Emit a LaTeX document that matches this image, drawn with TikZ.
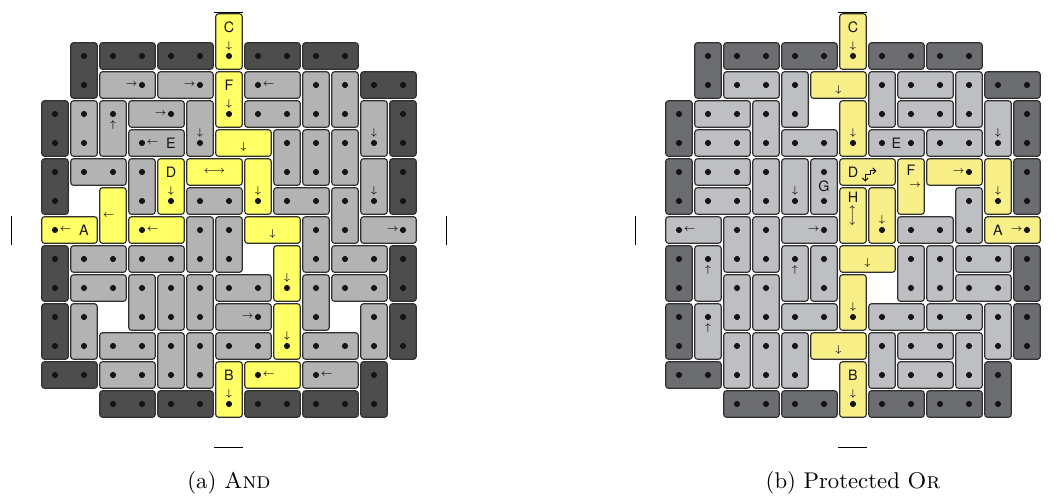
\documentclass[tikz,border=0pt]{standalone}
\usepackage{fontspec}
\usepackage{graphicx}
\usetikzlibrary{arrows.meta}
\newfontfamily\hv{TeX Gyre Heros}
\definecolor{DkA}{HTML}{4D4D4D}
\definecolor{LtA}{HTML}{B3B3B3}
\definecolor{YlA}{HTML}{FFFF66}
\definecolor{DkB}{HTML}{6C6D70}
\definecolor{LtB}{HTML}{BEBFC2}
\definecolor{YlB}{HTML}{F8EF88}
\definecolor{Edge}{HTML}{303030}
\definecolor{Ink}{HTML}{141414}
\newcommand\aD{\scalebox{0.44}{\boldmath$\downarrow$}}
\newcommand\aU{\scalebox{0.44}{\boldmath$\uparrow$}}
\newcommand\aL{\scalebox{0.44}{\boldmath$\leftarrow$}}
\newcommand\aR{\scalebox{0.44}{\boldmath$\rightarrow$}}
\newcommand\aLR{\scalebox{0.44}{\boldmath$\longleftrightarrow$}}
\newcommand\pz[5]{\draw[#5] ({#1-0.455},{#2-0.455}) rectangle ({#3+0.455},{#4+0.455});}
\newcommand\dt[2]{\fill[Ink] (#1,#2) circle[radius=1.35pt];}
\newcommand\pzd[5]{\pz{#1}{#2}{#3}{#4}{#5}\dt{#1}{#2}\dt{#3}{#4}}
\newcommand\rdot[2]{\dt{#1}{#2}\node[ar] at ({#1-0.36},#2) {\aR};}
\newcommand\ldot[2]{\dt{#1}{#2}\node[ar] at ({#1+0.37},#2) {\aL};}
\newcommand\dnd[2]{\dt{#1}{#2}\node[ar] at (#1,{#2-0.35}) {\aD};}
\newcommand\upd[2]{\dt{#1}{#2}\node[ar] at (#1,{#2+0.39}) {\aU};}
\newcommand\darkset{%
  \foreach \ca/\ra/\cb/\rb in {1/1/1/2, 2/1/3/1, 4/1/5/1, 7/1/8/1, 9/1/10/1, 11/2/12/2,
    0/3/0/4, 12/3/12/4, 0/5/0/6, 12/5/12/6, 0/8/0/9, 12/8/12/9, 0/10/0/11, 12/10/12/11,
    0/12/1/12, 11/12/11/13, 2/13/3/13, 4/13/5/13, 7/13/8/13, 9/13/10/13}
    {\pzd{\ca}{\ra}{\cb}{\rb}{dk}}%
  \draw[sidebar] (-1.5,6.5) -- (-1.5,7.5);
  \draw[sidebar] (5.5,-0.5) -- (6.5,-0.5);
  \draw[sidebar] (5.5,14.5) -- (6.5,14.5);
}
\tikzset{
  pc/.style={draw=Edge, line width=0.5pt, rounded corners=1.1pt},
  lab/.style={inner sep=0pt, text=Ink, font=\hv\fontsize{6.3}{7}\selectfont},
  ar/.style={inner sep=0pt, text=Ink, font=\fontsize{10}{12}\selectfont},
  sidebar/.style={line width=0.7pt, black},
  captext/.style={inner sep=0pt, font=\fontsize{10}{12}\selectfont},
  hook/.style={line width=0.45pt, Ink, {Straight Barb[length=1.3pt,width=2.6pt]}-{Straight Barb[length=1.3pt,width=2.6pt]}},
}
\begin{document}
\begin{tikzpicture}[x=0.44pt,y=-0.44pt]
\useasboundingbox (0,0) rectangle (1063,495);
% ---------------- (a) AND ----------------
\begin{scope}[shift={(24.2pt,-11.88pt)}, x=12.76pt, y=-12.76pt,
  dk/.style={pc, fill=DkA}, lt/.style={pc, fill=LtA}, yl/.style={pc, fill=YlA}]
\darkset
\foreach \ca/\ra/\cb/\rb in {9/2/9/3, 10/2/10/3, 1/3/1/4, 7/3/8/3, 8/4/8/5, 9/4/9/5,
  10/4/10/5, 1/5/2/5, 3/5/3/6, 5/6/6/6, 8/6/9/6, 10/6/10/7, 5/7/5/8, 6/7/6/8, 9/7/9/8,
  1/8/2/8, 3/8/4/8, 10/8/11/8, 1/9/2/9, 3/9/3/10, 4/9/4/10, 5/9/5/10, 6/9/7/9, 9/9/9/10,
  10/9/11/9, 1/10/1/11, 11/10/11/11, 2/11/3/11, 4/11/4/12, 5/11/5/12, 6/11/7/11,
  9/11/10/11, 2/12/3/12}
  {\pzd{\ca}{\ra}{\cb}{\rb}{lt}}
\pz{2}{2}{3}{2}{lt}\rdot{3}{2}
\pz{4}{2}{5}{2}{lt}\rdot{5}{2}
\pz{7}{2}{8}{2}{lt}\ldot{7}{2}
\pz{2}{3}{2}{4}{lt}\upd{2}{3}
\pz{3}{3}{4}{3}{lt}\rdot{4}{3}
\pz{5}{3}{5}{4}{lt}\dnd{5}{4}
\pz{11}{3}{11}{4}{lt}\dnd{11}{4}
\pz{3}{4}{4}{4}{lt}\ldot{3}{4}\node[lab] (aE) at (4,4) {E};
\pz{11}{5}{11}{6}{lt}\dnd{11}{6}
\pz{11}{7}{12}{7}{lt}\rdot{12}{7}
\pz{6}{10}{7}{10}{lt}\rdot{7}{10}
\pz{9}{12}{10}{12}{lt}\ldot{9}{12}
% yellow
\pz{6}{0}{6}{1}{yl}\node[lab] (aC) at (6,0) {C};\dnd{6}{1}
\pz{6}{2}{6}{3}{yl}\node[lab] (aF) at (6,2) {F};\dnd{6}{3}
\pz{6}{4}{7}{4}{yl}\node[ar] at (6.5,4.14) {\aD};
\pz{4}{5}{4}{6}{yl}\node[lab] (aDl) at (4,5) {D};\dnd{4}{6}
\pz{5}{5}{6}{5}{yl}\node[ar] at (5.5,5) {\aLR};
\pz{7}{5}{7}{6}{yl}\dnd{7}{6}
\pz{2}{6}{2}{7}{yl}\node[ar] at (1.85,6.5) {\aL};
\pz{0}{7}{1}{7}{yl}\ldot{0}{7}\node[lab] (aA) at (1,7) {A};
\pz{3}{7}{4}{7}{yl}\ldot{3}{7}
\pz{7}{7}{8}{7}{yl}\node[ar] at (7.5,7.14) {\aD};
\pz{8}{8}{8}{9}{yl}\dnd{8}{9}
\pz{8}{10}{8}{11}{yl}\dnd{8}{11}
\pz{6}{12}{6}{13}{yl}\node[lab] (aB) at (6,12) {B};\dnd{6}{13}
\pz{7}{12}{8}{12}{yl}\ldot{7}{12}
\draw[sidebar] (13.5,6.5) -- (13.5,7.5);
\end{scope}
% ---------------- (b) PROTECTED OR ----------------
\begin{scope}[shift={(298.76pt,-11.88pt)}, x=12.76pt, y=-12.76pt,
  dk/.style={pc, fill=DkB}, lt/.style={pc, fill=LtB}, yl/.style={pc, fill=YlB}]
\darkset
\foreach \ca/\ra/\cb/\rb in {2/2/3/2, 4/2/4/3, 7/2/7/3, 8/2/9/2, 10/2/10/3, 1/3/2/3,
  3/3/3/4, 8/3/9/3, 1/4/2/4, 4/4/5/4, 7/4/8/4, 9/4/10/4, 1/5/2/5, 3/5/3/6, 5/5/5/6,
  1/6/2/6, 10/6/10/7, 2/7/2/8, 3/7/3/8, 8/7/9/7, 5/8/5/9, 8/8/8/9, 9/8/9/9, 10/8/11/8,
  2/9/2/10, 3/9/3/10, 10/9/11/9, 4/10/5/10, 7/10/8/10, 9/10/10/10, 11/10/11/11,
  2/11/2/12, 3/11/3/12, 4/11/4/12, 7/11/7/12, 8/11/9/11, 10/11/10/12, 8/12/9/12}
  {\pzd{\ca}{\ra}{\cb}{\rb}{lt}}
\node[lab] (bE) at (7.5,4) {E};
\node[lab] (bG) at (5,5.5) {G};
\pz{11}{3}{11}{4}{lt}\dnd{11}{4}
\pz{4}{5}{4}{6}{lt}\dnd{4}{6}
\pz{0}{7}{1}{7}{lt}\ldot{0}{7}
\pz{4}{7}{5}{7}{lt}\rdot{5}{7}
\pz{1}{8}{1}{9}{lt}\upd{1}{8}
\pz{4}{8}{4}{9}{lt}\upd{4}{8}
\pz{1}{10}{1}{11}{lt}\upd{1}{10}
% yellow
\pz{6}{0}{6}{1}{yl}\node[lab] (bC) at (6,0) {C};\dnd{6}{1}
\pz{5}{2}{6}{2}{yl}\node[ar] at (5.5,2.16) {\aD};
\pz{6}{3}{6}{4}{yl}\dnd{6}{4}
\pz{6}{5}{7}{5}{yl}\node[lab] (bD) at (6,5) {D};
\draw[hook] (6.42,5.33) -- (6.42,5.1) -- (6.6,5.1) -- (6.6,4.96) -- (6.81,4.96);
\pz{8}{5}{8}{6}{yl}\node[lab] (bF) at (8,4.95) {F};\node[ar] at (8.14,5.48) {\aR};
\pz{9}{5}{10}{5}{yl}\rdot{10}{5}
\pz{11}{5}{11}{6}{yl}\dnd{11}{6}
\pz{6}{6}{6}{7}{yl}\node[lab] (bH) at (6,5.86) {H};\node[ar, rotate=90] at (6,6.5) {\aLR};
\pz{7}{6}{7}{7}{yl}\dnd{7}{7}
\pz{11}{7}{12}{7}{yl}\rdot{12}{7}\node[lab] (bA) at (11,7) {A};
\pz{6}{8}{7}{8}{yl}\node[ar] at (6.5,8.14) {\aD};
\pz{6}{9}{6}{10}{yl}\dnd{6}{10}
\pz{5}{11}{6}{11}{yl}\node[ar] at (5.5,11.14) {\aD};
\pz{6}{12}{6}{13}{yl}\node[lab] (bB) at (6,12) {B};\dnd{6}{13}
\end{scope}
\node[captext, anchor=base] (capa) at (229,488) {(a) \textsc{And}};
\node[captext, anchor=base] (capb) at (853,488) {(b) Protected \textsc{Or}};
\end{tikzpicture}
\end{document}
